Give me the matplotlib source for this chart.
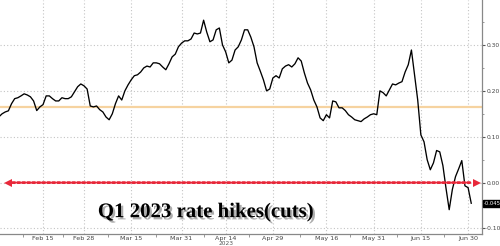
import matplotlib
matplotlib.use("Agg")
import matplotlib.pyplot as plt
import matplotlib.patheffects as pe
import pandas as pd

start_date = "2023-02-01"
values = [
    0.1435, 0.150, 0.154, 0.1565, 0.172, 0.183, 0.185, 0.189, 0.1935, 0.191,
    0.187, 0.178, 0.157, 0.165, 0.170, 0.189, 0.189, 0.183, 0.178, 0.178,
    0.185, 0.183, 0.183, 0.187, 0.198, 0.209, 0.215, 0.211, 0.204, 0.167,
    0.165, 0.167, 0.159, 0.154, 0.143, 0.137, 0.150, 0.172, 0.189, 0.180,
    0.200, 0.213, 0.224, 0.233, 0.235, 0.241, 0.250, 0.254, 0.252, 0.261,
    0.261, 0.259, 0.252, 0.246, 0.259, 0.274, 0.280, 0.296, 0.304, 0.309,
    0.309, 0.313, 0.326, 0.324, 0.326, 0.354, 0.328, 0.307, 0.311, 0.333,
    0.337, 0.300, 0.285, 0.261, 0.267, 0.289, 0.296, 0.311, 0.333, 0.333,
    0.317, 0.296, 0.261, 0.243, 0.224, 0.200, 0.204, 0.228, 0.233, 0.228,
    0.248, 0.254, 0.257, 0.252, 0.259, 0.272, 0.265, 0.239, 0.217, 0.202,
    0.180, 0.165, 0.141, 0.135, 0.148, 0.141, 0.178, 0.176, 0.163, 0.163,
    0.157, 0.148, 0.143, 0.137, 0.135, 0.133, 0.139, 0.143, 0.148, 0.150,
    0.148, 0.200, 0.196, 0.189, 0.202, 0.215, 0.213, 0.217, 0.220, 0.241,
    0.257, 0.289, 0.235, 0.180, 0.104, 0.089, 0.050, 0.028, 0.043, 0.070,
    0.067, 0.037, -0.013, -0.059, -0.015, 0.013, 0.030, 0.048, -0.007, -0.011,
    -0.045,
]
reference_level = 0.165
zero_level = 0.0
last_label = "-0.045"
title_text = "Q1 2023 rate hikes(cuts)"
year_label = "2023"
tick_dates = ["2023-02-15", "2023-02-28", "2023-03-15", "2023-03-31", "2023-04-14",
              "2023-04-29", "2023-05-16", "2023-05-31", "2023-06-15", "2023-06-30"]
tick_labels = ["Feb 15", "Feb 28", "Mar 15", "Mar 31", "Apr 14",
               "Apr 29", "May 16", "May 31", "Jun 15", "Jun 30"]
y_ticks = [-0.10, 0.00, 0.10, 0.20, 0.30]
y_tick_labels = ["-0.10", "0.00", "0.10", "0.20", "0.30"]

dates = pd.date_range(start_date, periods=len(values), freq="D")
tdates = pd.to_datetime(tick_dates)

fig = plt.figure(figsize=(5.0, 2.46), dpi=100)
ax = fig.add_axes([0.0, 12 / 246, 482 / 500, 234 / 246])

grid_kw = dict(color="#c4c4c4", lw=0.8, ls=(0, (1, 2)), zorder=0)
for t in tdates:
    ax.axvline(t, **grid_kw)
for v in y_ticks:
    ax.axhline(v, **grid_kw)

ax.axhline(reference_level, color="#f6d3a0", lw=1.6, zorder=1)

ax.plot(dates, values, color="black", lw=0.95, zorder=3)

# red dotted double arrow at zero
red = "#e8283a"
ax.annotate("", xy=(0.985, zero_level), xytext=(0.02, zero_level),
            xycoords=("axes fraction", "data"), textcoords=("axes fraction", "data"),
            arrowprops=dict(arrowstyle="-", color=red, lw=2.0, ls=(0, (0.9, 0.9))),
            zorder=4)
for xf, m in [(0.016, "<"), (0.99, ">")]:
    ax.plot([xf], [zero_level], marker=m, color=red, ms=6, mew=0,
            transform=ax.get_yaxis_transform(), zorder=4, clip_on=False)

ax.text(0.203, 0.072, title_text, transform=ax.transAxes,
        fontsize=15, fontfamily="Liberation Serif", fontweight="bold", color="black",
        path_effects=[pe.withSimplePatchShadow(offset=(1.6, -1.6), shadow_rgbFace="#777777", alpha=0.6)],
        zorder=5)

ax.set_xlim(pd.Timestamp("2023-02-01 08:00"), pd.Timestamp("2023-07-04 10:00"))
ax.set_ylim(-0.112, 0.398)

ax.yaxis.tick_right()
ax.set_yticks(y_ticks)
ax.set_yticklabels(y_tick_labels)
ax.set_yticks([-0.05, 0.05, 0.15, 0.25, 0.35], minor=True)
ax.tick_params(axis="y", which="major", length=2, width=0.8, color="#555555",
               labelsize=4.3, labelcolor="#444444", pad=1)
ax.tick_params(axis="y", which="minor", length=1.5, width=0.6, color="#888888")

ax.set_xticks(tdates)
ax.set_xticklabels(tick_labels)
minor = [tdates[0] - (tdates[1] - tdates[0]) / 2] + [tdates[i] + (tdates[i + 1] - tdates[i]) / 2 for i in range(len(tdates) - 1)]
ax.set_xticks(minor, minor=True)
ax.tick_params(axis="x", which="major", length=0, labelsize=4.6, labelcolor="#444444", pad=1.5)
ax.tick_params(axis="x", which="minor", length=2, width=0.6, color="#888888")
ax.text(tdates[4], -0.1265, year_label, transform=ax.transData,
        fontsize=4.2, color="#555555", ha="center", va="top", clip_on=False)

for s in ["top", "left"]:
    ax.spines[s].set_visible(False)
for s in ["right", "bottom"]:
    ax.spines[s].set_color("#888888")
    ax.spines[s].set_linewidth(0.9)

ax.annotate(last_label, xy=(1.0, values[-1]), xycoords=("axes fraction", "data"),
            xytext=(1.2, 0), textcoords="offset points", fontsize=3.8, color="white",
            va="center", ha="left",
            bbox=dict(boxstyle="square,pad=0.15", fc="black", ec="black"),
            annotation_clip=False)

fig.savefig("out.png", dpi=100)
